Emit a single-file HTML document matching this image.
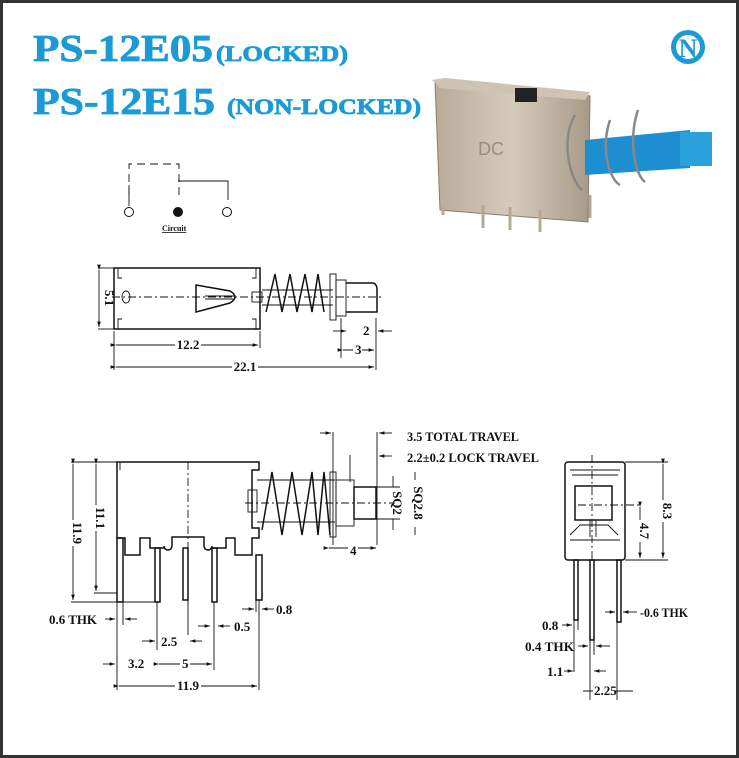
<!DOCTYPE html>
<html><head><meta charset="utf-8"><style>
html,body{margin:0;padding:0;background:#fff}
svg{display:block}
.t{font-family:"Liberation Serif",serif;font-weight:bold;font-size:13px;fill:#111}
.l{stroke:#111;stroke-width:1.5;fill:none}
.th{stroke:#111;stroke-width:0.9;fill:none}
.d{stroke:#111;stroke-width:0.9;fill:none;stroke-dasharray:8 3 2 3}
</style></head><body>
<svg width="739" height="758" viewBox="0 0 739 758" xmlns="http://www.w3.org/2000/svg">
<defs>
<marker id="a" markerWidth="6" markerHeight="6" refX="6" refY="3" orient="auto"><path d="M0,1 L6,3 L0,5z" fill="#111"/></marker>
<linearGradient id="m" x1="0" x2="1"><stop offset="0" stop-color="#b9ab98"/><stop offset="0.5" stop-color="#d6cbbb"/><stop offset="1" stop-color="#a89a88"/></linearGradient>
</defs>
<rect x="1.5" y="1.5" width="736" height="755" fill="#fff" stroke="#333" stroke-width="3"/>
<g font-family="Liberation Serif,serif" font-weight="bold" fill="#1b9ad6" stroke="#1b9ad6" stroke-width="0.8">
<text x="33" y="61" font-size="38" textLength="180" lengthAdjust="spacingAndGlyphs">PS-12E05</text>
<text x="216" y="61" font-size="22" textLength="132" lengthAdjust="spacingAndGlyphs">(LOCKED)</text>
<text x="33" y="114" font-size="38" textLength="182" lengthAdjust="spacingAndGlyphs">PS-12E15</text>
<text x="227" y="114" font-size="22" textLength="194" lengthAdjust="spacingAndGlyphs">(NON-LOCKED)</text>
</g>
<circle cx="688" cy="47" r="17" fill="#1b9ad6"/><circle cx="688" cy="47" r="12" fill="#fff"/>
<text x="688" y="57" text-anchor="middle" font-family="Liberation Serif,serif" font-weight="bold" font-size="26" fill="#1b9ad6">N</text>
<!-- photo -->
<path d="M435,82 L590,96 L588,222 L440,210z" fill="url(#m)" stroke="#8a7d6c"/>
<path d="M432,80 L445,78 L590,92 L585,100 L440,88z" fill="#cfc4b4"/>
<rect x="515" y="88" width="22" height="14" fill="#222"/>
<text x="478" y="155" font-family="Liberation Sans,sans-serif" font-size="18" fill="#9a8d7c">DC</text>
<path d="M585,140 L690,130 L690,168 L585,175z" fill="#1d8fd0"/>
<rect x="680" y="132" width="32" height="34" fill="#2aa0dc"/>
<path d="M575,115 C560,140 570,180 582,190 M610,120 C600,150 610,180 620,185 M638,110 C628,140 635,175 645,182" stroke="#888" stroke-width="2.5" fill="none"/>
<g stroke="#b5a894" stroke-width="3"><line x1="443" y1="205" x2="443" y2="215"/><line x1="483" y1="205" x2="483" y2="228"/><line x1="510" y1="207" x2="510" y2="230"/><line x1="540" y1="210" x2="540" y2="232"/><line x1="590" y1="195" x2="590" y2="218"/></g>
<!-- circuit -->
<path d="M129,195 V164 H179 V200" class="th" stroke-dasharray="8 5"/>
<path d="M178,181 H228 V200" class="th"/>
<line x1="129" y1="185" x2="129" y2="206" class="th"/>
<circle cx="129" cy="212" r="4.5" fill="#fff" stroke="#111"/>
<circle cx="178" cy="212" r="5" fill="#111"/>
<circle cx="227" cy="212" r="4.5" fill="#fff" stroke="#111"/>
<text x="162" y="231" font-family="Liberation Serif,serif" font-weight="bold" font-size="8" fill="#111" text-decoration="underline">Circuit</text>
<!-- top view -->
<rect x="114" y="268" width="146" height="61" class="l"/>
<path d="M118,268 V278 H122 M118,329 V319 H122 M256,268 V278 H252 M256,329 V319 H252" class="th"/>
<ellipse cx="126" cy="297" rx="4" ry="6" class="th"/>
<line x1="112" y1="297" x2="382" y2="297" class="d"/>
<path d="M196,285 L230,291 Q240,297 230,303 L196,312z" class="l"/>
<path d="M205,296 H235 M205,299 H235" class="th"/>
<rect x="252" y="292" width="10" height="10" class="th"/>
<path d="M262,290 H333 M262,305 H333" class="th"/>
<path d="M266,312 L275,274 L282,312 L290,274 L297,312 L305,274 L312,312 L318,274 L324,312" class="l"/>
<rect x="330" y="274" width="6" height="46" class="th"/><rect x="336" y="280" width="10" height="36" class="th"/>
<path d="M346,283 H372 Q377,283 377,290 V312 H346" class="l"/>
<line x1="98" y1="268" x2="114" y2="268" class="th"/><line x1="98" y1="329" x2="114" y2="329" class="th"/>
<line x1="99" y1="270" x2="99" y2="327" class="th" marker-start="url(#a)" marker-end="url(#a)"/>
<text x="105" y="298" class="t" transform="rotate(90 105 298)" text-anchor="middle">5.1</text>
<path d="M114,331 V370 M260,331 V348 M376,318 V370 M341,318 V358" class="th"/>
<line x1="116" y1="345" x2="258" y2="345" class="th" marker-start="url(#a)" marker-end="url(#a)"/>
<rect x="175" y="338" width="26" height="12" fill="#fff"/><text x="188" y="349" class="t" text-anchor="middle">12.2</text>
<line x1="116" y1="367" x2="374" y2="367" class="th" marker-start="url(#a)" marker-end="url(#a)"/>
<rect x="232" y="360" width="26" height="12" fill="#fff"/><text x="245" y="371" class="t" text-anchor="middle">22.1</text>
<line x1="333" y1="331" x2="346" y2="331" class="th" marker-end="url(#a)"/>
<line x1="392" y1="331" x2="378" y2="331" class="th" marker-end="url(#a)"/>
<text x="363" y="335" class="t">2</text>
<line x1="343" y1="350" x2="374" y2="350" class="th" marker-start="url(#a)" marker-end="url(#a)"/>
<rect x="353" y="343" width="9" height="12" fill="#fff"/><text x="355" y="354" class="t">3</text>
<!-- front view -->
<path d="M117,462 H259 V470 H252 V528 H259 V538 H252 V555 H235 V538 H226 V548 H212 V546 A4 4 0 0 1 204 546 V537 H172 V546 A4 4 0 0 1 164 546 V548 H150 V538 H140 V555 H125 V538 H117 Z" class="l"/>
<line x1="71" y1="462" x2="117" y2="462" class="th"/>
<line x1="120" y1="462" x2="120" y2="470" class="th"/>
<line x1="188" y1="462" x2="188" y2="605" class="d"/>
<g class="l"><rect x="117" y="538" width="6" height="64"/><rect x="155" y="548" width="5" height="54"/><rect x="183" y="548" width="5" height="52"/><rect x="212" y="548" width="5" height="54"/><rect x="256" y="555" width="6" height="45"/></g>
<path d="M71,602 H155 M94,593 H117" class="th"/>
<line x1="73" y1="464" x2="73" y2="600" class="th" marker-start="url(#a)" marker-end="url(#a)"/>
<line x1="96" y1="464" x2="96" y2="591" class="th" marker-start="url(#a)" marker-end="url(#a)"/>
<rect x="66" y="520" width="14" height="26" fill="#fff"/><text x="73" y="533" class="t" transform="rotate(90 73 533)" text-anchor="middle">11.9</text>
<rect x="89" y="505" width="14" height="26" fill="#fff"/><text x="96" y="518" class="t" transform="rotate(90 96 518)" text-anchor="middle">11.1</text>
<rect x="248" y="490" width="9" height="22" class="th"/>
<path d="M257,480 H335 M257,522 H335" class="th"/>
<path d="M262,530 L272,472 L282,535 L292,472 L302,535 L312,472 L318,535 L324,472 L330,535" class="l"/>
<rect x="330" y="472" width="6" height="65" class="th"/><rect x="336" y="480" width="18" height="46" class="th"/>
<rect x="354" y="487" width="22" height="32" class="l"/>
<line x1="245" y1="503" x2="395" y2="503" class="d"/>
<path d="M333,432 V545 M377,432 V545 M350,455 V482" class="th"/>
<line x1="320" y1="433" x2="331" y2="433" class="th" marker-end="url(#a)"/>
<line x1="392" y1="433" x2="379" y2="433" class="th" marker-end="url(#a)"/>
<line x1="392" y1="456" x2="379" y2="456" class="th" marker-end="url(#a)"/>
<text x="407" y="441" class="t" textLength="112" lengthAdjust="spacingAndGlyphs">3.5 TOTAL TRAVEL</text>
<text x="407" y="462" class="t" textLength="132" lengthAdjust="spacingAndGlyphs">2.2±0.2 LOCK TRAVEL</text>
<line x1="329" y1="548" x2="376" y2="548" class="th" marker-start="url(#a)" marker-end="url(#a)"/>
<rect x="348" y="542" width="10" height="14" fill="#fff"/><text x="350" y="555" class="t">4</text>
<path d="M377,487 H400 M377,519 H400" class="th"/>
<path d="M393,476 V487 M393,530 V519 M415,472 V480 M415,535 V527" class="th"/>
<text x="393" y="503" class="t" transform="rotate(90 393 503)" text-anchor="middle">SQ2</text>
<text x="414" y="503" class="t" transform="rotate(90 414 503)" text-anchor="middle">SQ2.8</text>
<path d="M117,602 V690 M123,602 V625 M157,602 V650 M188,600 V635 M214,602 V670 M259,600 V690 M256,600 V612" class="th"/>
<line x1="105" y1="619" x2="115" y2="619" class="th" marker-end="url(#a)"/>
<line x1="137" y1="619" x2="125" y2="619" class="th" marker-end="url(#a)"/>
<text x="49" y="624" class="t" textLength="48" lengthAdjust="spacingAndGlyphs">0.6 THK</text>
<line x1="242" y1="609" x2="254" y2="609" class="th" marker-end="url(#a)"/>
<line x1="274" y1="609" x2="262" y2="609" class="th" marker-end="url(#a)"/>
<text x="276" y="614" class="t">0.8</text>
<line x1="198" y1="626" x2="210" y2="626" class="th" marker-end="url(#a)"/>
<line x1="230" y1="626" x2="218" y2="626" class="th" marker-end="url(#a)"/>
<text x="234" y="631" class="t">0.5</text>
<line x1="142" y1="641" x2="155" y2="641" class="th" marker-end="url(#a)"/>
<line x1="202" y1="641" x2="190" y2="641" class="th" marker-end="url(#a)"/>
<text x="161" y="646" class="t">2.5</text>
<line x1="103" y1="664" x2="115" y2="664" class="th" marker-end="url(#a)"/>
<text x="128" y="668" class="t">3.2</text>
<line x1="159" y1="664" x2="212" y2="664" class="th" marker-start="url(#a)" marker-end="url(#a)"/>
<rect x="180" y="657" width="10" height="12" fill="#fff"/><text x="182" y="668" class="t">5</text>
<line x1="119" y1="686" x2="257" y2="686" class="th" marker-start="url(#a)" marker-end="url(#a)"/>
<rect x="175" y="679" width="26" height="12" fill="#fff"/><text x="177" y="690" class="t">11.9</text>
<!-- side view -->
<rect x="565" y="462" width="60" height="98" rx="3" class="l"/>
<path d="M570,470 H620 M572,475 H618" class="th"/>
<rect x="575" y="486" width="37" height="34" class="l"/>
<path d="M570,535 L580,525 H608 L618,535 M570,540 H620" class="th"/>
<path d="M590,520 V537 M596,520 V537" class="th"/>
<line x1="592" y1="455" x2="592" y2="560" class="d"/>
<line x1="578" y1="505" x2="640" y2="505" class="d"/>
<g class="l"><rect x="574" y="560" width="4" height="60"/><rect x="590" y="560" width="4" height="80"/><rect x="617" y="560" width="4" height="62"/></g>
<path d="M625,462 H668 M625,560 H668" class="th"/>
<line x1="663" y1="464" x2="663" y2="558" class="th" marker-start="url(#a)" marker-end="url(#a)"/>
<rect x="656" y="500" width="14" height="22" fill="#fff"/><text x="663" y="511" class="t" transform="rotate(90 663 511)" text-anchor="middle">8.3</text>
<line x1="640" y1="507" x2="640" y2="558" class="th" marker-start="url(#a)" marker-end="url(#a)"/>
<rect x="633" y="520" width="14" height="22" fill="#fff"/><text x="640" y="531" class="t" transform="rotate(90 640 531)" text-anchor="middle">4.7</text>
<path d="M574,620 V672 M578,620 V630 M590,640 V700 M594,640 V655 M617,622 V700" class="th"/>
<line x1="605" y1="612" x2="615" y2="612" class="th" marker-end="url(#a)"/>
<line x1="637" y1="612" x2="623" y2="612" class="th" marker-end="url(#a)"/>
<text x="640" y="617" class="t" textLength="48" lengthAdjust="spacingAndGlyphs">-0.6 THK</text>
<line x1="562" y1="625" x2="572" y2="625" class="th" marker-end="url(#a)"/>
<text x="542" y="630" class="t">0.8</text>
<line x1="578" y1="646" x2="588" y2="646" class="th" marker-end="url(#a)"/>
<line x1="610" y1="646" x2="596" y2="646" class="th" marker-end="url(#a)"/>
<text x="525" y="651" class="t" textLength="49" lengthAdjust="spacingAndGlyphs">0.4 THK</text>
<line x1="564" y1="671" x2="573" y2="671" class="th" marker-end="url(#a)"/>
<line x1="606" y1="671" x2="594" y2="671" class="th" marker-end="url(#a)"/>
<text x="547" y="676" class="t">1.1</text>
<line x1="583" y1="691" x2="633" y2="691" class="th"/>
<rect x="593" y="684" width="22" height="12" fill="#fff"/><text x="594" y="695" class="t">2.25</text>
</svg>
</body></html>
